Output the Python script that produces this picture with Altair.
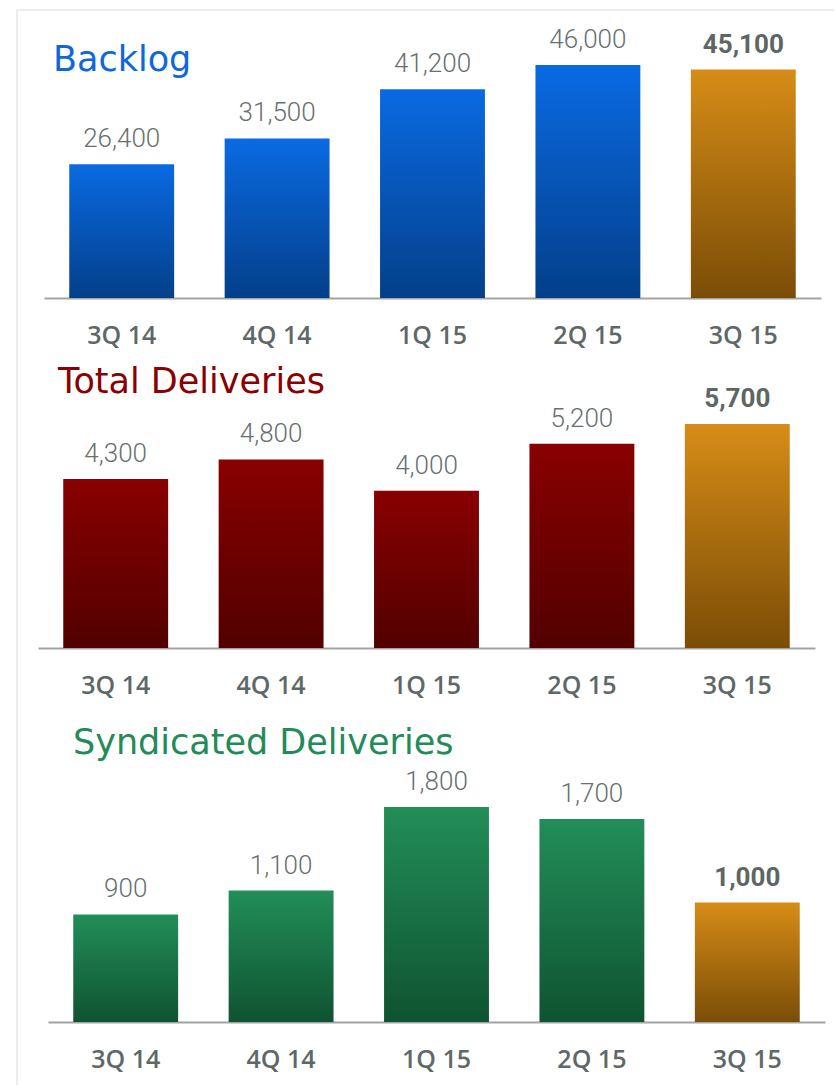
import altair as alt
import pandas as pd

quarters = ["3Q 14", "4Q 14", "1Q 15", "2Q 15", "3Q 15"]
backlog = [26400, 31500, 41200, 46000, 45100]
total_deliveries = [4300, 4800, 4000, 5200, 5700]
syndicated_deliveries = [900, 1100, 1800, 1700, 1000]
highlight_quarter = "3Q 15"
titles = ["Backlog", "Total Deliveries", "Syndicated Deliveries"]

LABEL_GRAY = "#687070"
TICK_GRAY = "#5f6868"


def grad(top, bottom):
    return alt.Gradient(
        gradient="linear",
        stops=[alt.GradientStop(color=top, offset=0), alt.GradientStop(color=bottom, offset=1)],
        x1=0, x2=0, y1=0, y2=1,
    )


def panel(values, title, title_color, top, bottom, ymax, height, xrange,
          title_x, title_y, border=False):
    df = pd.DataFrame({
        "quarter": quarters,
        "value": values,
        "hl": [q == highlight_quarter for q in quarters],
    })
    base = alt.Chart(df)
    x = alt.X("quarter:N", sort=quarters,
              scale=alt.Scale(range=xrange, paddingInner=0.325, paddingOuter=0.1625),
              axis=alt.Axis(title=None, labelAngle=0, ticks=False, grid=False,
                            domainColor="#a3a3a3", domainWidth=2,
                            labelFont="Open Sans", labelFontWeight=600,
                            labelFontSize=25, labelColor=TICK_GRAY,
                            labelPadding=25))
    y = alt.Y("value:Q", scale=alt.Scale(domain=[0, ymax], nice=False, zero=True), axis=None)

    bars = base.mark_bar(color=grad(top, bottom)).encode(x=x, y=y).transform_filter("!datum.hl")
    hbars = base.mark_bar(color=grad("#d78c17", "#7a4d07")).encode(x=x, y=y).transform_filter("datum.hl")
    labels = base.mark_text(font="Roboto", fontWeight=300, fontSize=26, color=LABEL_GRAY,
                            baseline="alphabetic", dy=-17).encode(
        x=x, y=y, text=alt.Text("value:Q", format=",d")).transform_filter("!datum.hl")
    hlabels = base.mark_text(font="Roboto", fontWeight="bold", fontSize=26, color="#5d6565",
                             baseline="alphabetic", dy=-17).encode(
        x=x, y=y, text=alt.Text("value:Q", format=",d")).transform_filter("datum.hl")
    ttl = alt.Chart(alt.Data(values=[{"t": title}])).mark_text(
        font="DejaVu Sans", fontSize=35, color=title_color, align="left",
        baseline="alphabetic").encode(x=alt.value(title_x), y=alt.value(title_y), text="t:N")

    layers = [bars, hbars, labels, hlabels, ttl]
    if border:
        one = alt.Chart(alt.Data(values=[{"b": 1}]))
        layers.append(one.mark_rule(color="#ececec", strokeWidth=2).encode(
            x=alt.value(1), x2=alt.value(818), y=alt.value(-10)))
        layers.append(one.mark_rule(color="#ececec", strokeWidth=2).encode(
            x=alt.value(1), y=alt.value(-10), y2=alt.value(1065)))
    return alt.layer(*layers).properties(width=819, height=height)


p1 = panel(backlog, titles[0], "#0f67dc", "#0a6ae2", "#033f8a", 54900, 278, [28, 805],
           37, 51, border=True)
p2 = panel(total_deliveries, titles[1], "#8b0000", "#890000", "#520000", 7330, 288, [22, 799],
           42, 33)
p3 = panel(syndicated_deliveries, titles[2], "#238a5a", "#228e58", "#0f5331", 2612, 312, [32, 809],
           57, 44)

chart = alt.vconcat(p1, p2, p3, spacing=62, bounds="flush").properties(
    padding={"left": 16, "top": 9, "right": 0, "bottom": 0},
    background="white",
).configure_view(strokeWidth=0)

chart.save("out.html", embed_options={"renderer": "svg", "actions": False})
